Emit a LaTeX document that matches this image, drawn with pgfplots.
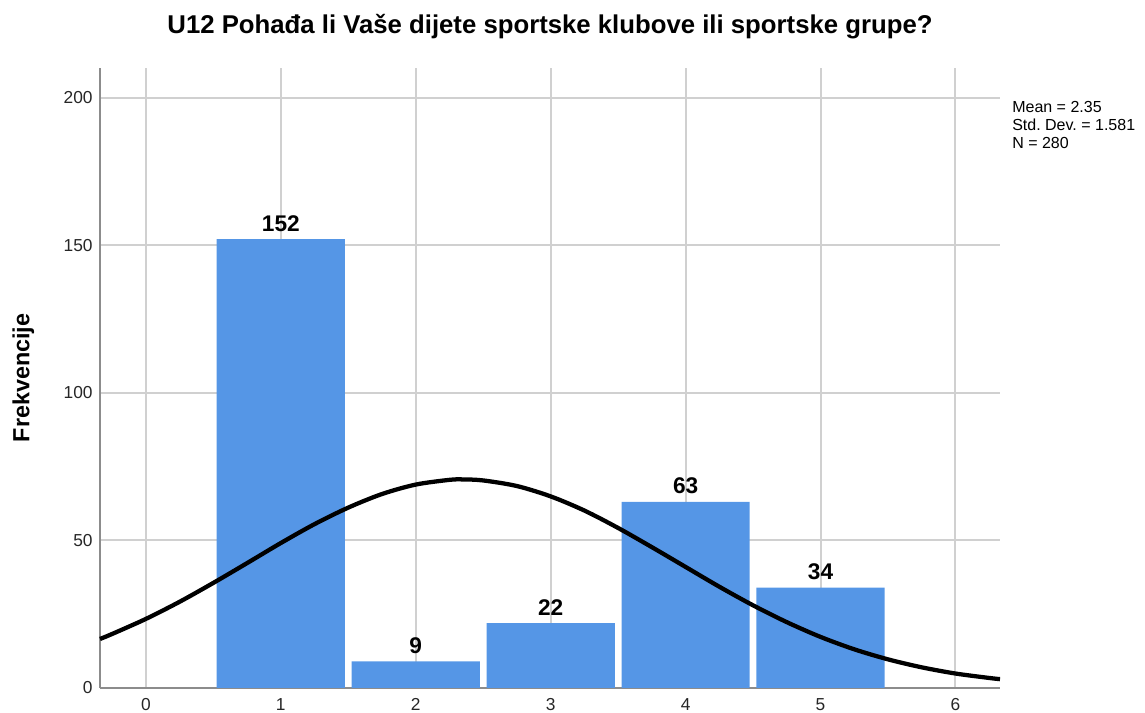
\documentclass[border=0pt]{standalone}
\usepackage{fontspec}
\setmainfont{Liberation Sans}
\usepackage{pgfplots}
\pgfplotsset{compat=1.18}
\definecolor{barblue}{HTML}{5596E6}
\definecolor{gridgray}{HTML}{D0D0D0}
\definecolor{axgray}{HTML}{8C8C8C}
\frenchspacing
\begin{document}
\begin{tikzpicture}[x=0.75pt,y=0.75pt]
\path[use as bounding box] (-100,-25) rectangle (1045,688);
\begin{axis}[
  at={(0,0)}, anchor=south west,
  scale only axis,
  width=675pt, height=465pt,
  xmin=-0.34, xmax=6.33,
  ymin=0, ymax=210,
  xtick={0,1,2,3,4,5,6},
  ytick={0,50,100,150,200},
  grid=major,
  major grid style={gridgray, line width=1.5pt},
  axis x line*=bottom, axis y line*=left,
  axis line style={-, axgray, line width=1.5pt},
  major tick length=0pt,
  /pgf/number format/assume math mode=true,
  ticklabel style={font=\fontsize{13}{15}\selectfont, text=black!85},
  xticklabel style={yshift=-4.5pt},
  yticklabel style={xshift=-2pt},
  ylabel={\textbf{Frekvencije}},
  ylabel style={font=\fontsize{17.5}{20}\selectfont, at={(axis description cs:0,0.5)}, anchor=base, yshift=53pt},
  title={\textbf{U12 Pohađa li Vaše dijete sportske klubove ili sportske grupe?}},
  title style={font=\fontsize{19.3}{22}\selectfont, at={(axis description cs:0.5,1)}, anchor=base, yshift=19.5pt},
  clip=false,
]
\addplot[ybar, bar width=0.95, fill=barblue, draw=none,
  nodes near coords,
  nodes near coords style={font=\bfseries\fontsize{17}{20}\selectfont, text=black, yshift=2.3pt}]
  coordinates {(1,152) (2,9) (3,22) (4,63) (5,34)};
\addplot[black, line width=3.2pt, smooth, no marks] coordinates {
(-0.34,16.6) (-0.25,18.3) (0,23.4) (0.25,29.2) (0.5,35.6) (0.75,42.3)
(1,49.1) (1.25,55.5) (1.5,61.1) (1.75,65.7) (2,68.9) (2.25,70.5) (2.35,70.65)
(2.5,70.3) (2.75,68.4) (3,64.9) (3.25,60.1) (3.5,54.2) (3.75,47.7)
(4,41.0) (4.25,34.3) (4.5,28.0) (4.75,22.3) (5,17.3) (5.25,13.1)
(5.5,9.7) (5.75,7.0) (6,4.9) (6.25,3.4) (6.33,3.0)};
\end{axis}
\node[anchor=north west, align=left, font=\fontsize{12}{13.5}\selectfont, inner sep=0pt] at (912,587) {Mean = 2.35\\Std. Dev. = 1.581\\N = 280};
\end{tikzpicture}
\end{document}
